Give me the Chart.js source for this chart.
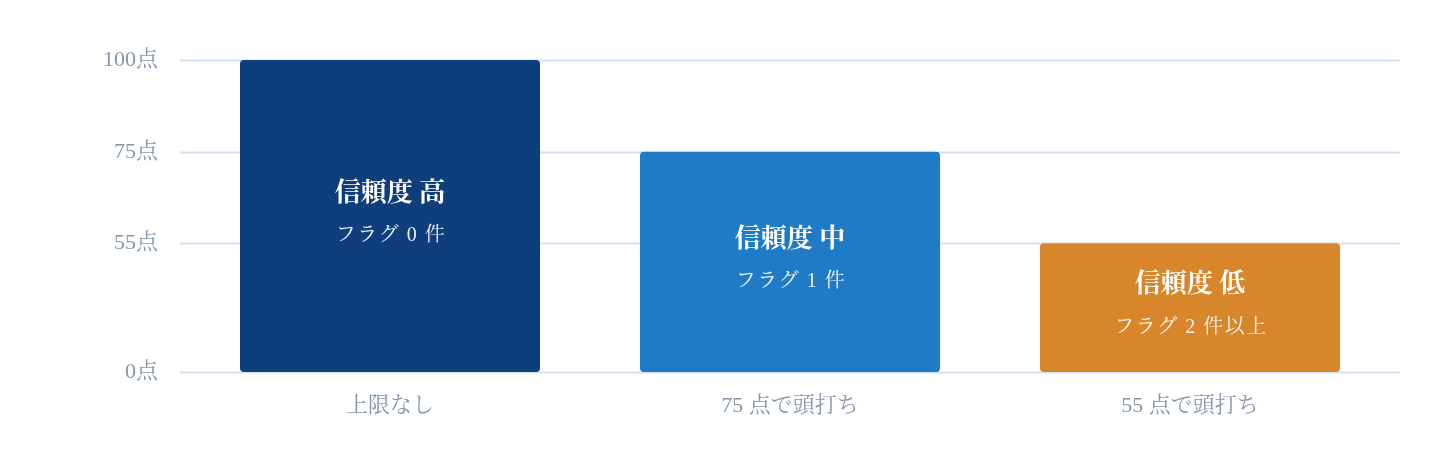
<!DOCTYPE html>
<html lang="ja">
<head>
<meta charset="utf-8">
<script src="https://cdn.jsdelivr.net/npm/chart.js@4.4.1/dist/chart.umd.min.js"></script>
<style>
  html, body { margin: 0; padding: 0; background: #fff; }
  #wrap { width: 1440px; height: 460px; }
</style>
</head>
<body>
<div id="wrap"><canvas id="c"></canvas></div>
<script>
// data
var categories = ['上限なし', '75 点で頭打ち', '55 点で頭打ち'];
var scores = [100, 75, 55];
var levelNames = ['信頼度 高', '信頼度 中', '信頼度 低'];
var flagNotes = ['フラグ 0 件', 'フラグ 1 件', 'フラグ 2 件以上'];
var barColors = ['#0e3e7b', '#1f7bc6', '#d8862c'];
var yTicks = [0, 55, 75, 100];
// where each tick sits on the axis (0 = bottom, 1 = top)
var yTickPos = [0, 0.4125, 0.706, 1];

var FONT = '"Liberation Serif", "Noto Serif CJK JP", "Noto Serif JP", "IPAMincho", "IPAexMincho", "DejaVu Serif", serif';
var TICK_COLOR = '#8596aa';
var GRID_COLOR = '#d3e2f1';

// piecewise linear y scale so that the score bands get the spacing of the original
class BandScale extends Chart.LinearScale {
  getPixelForValue(value) {
    var d = 0;
    for (var i = 1; i < yTicks.length; i++) {
      if (value <= yTicks[i] || i === yTicks.length - 1) {
        var t = (value - yTicks[i - 1]) / (yTicks[i] - yTicks[i - 1]);
        d = yTickPos[i - 1] + t * (yTickPos[i] - yTickPos[i - 1]);
        break;
      }
    }
    return this.getPixelForDecimal(d);
  }
  getValueForPixel(pixel) {
    var d = this.getDecimalForPixel(pixel);
    for (var i = 1; i < yTickPos.length; i++) {
      if (d <= yTickPos[i] || i === yTickPos.length - 1) {
        var t = (d - yTickPos[i - 1]) / (yTickPos[i] - yTickPos[i - 1]);
        return yTicks[i - 1] + t * (yTicks[i] - yTicks[i - 1]);
      }
    }
  }
}
BandScale.id = 'band';
BandScale.defaults = Chart.LinearScale.defaults;
Chart.register(BandScale);

// horizontal grid lines, a little wider than the plot area
var gridPlugin = {
  id: 'bandGrid',
  beforeDatasetsDraw: function(chart) {
    var ctx = chart.ctx, area = chart.chartArea, y = chart.scales.y;
    ctx.save();
    ctx.strokeStyle = GRID_COLOR;
    ctx.lineWidth = 2;
    yTicks.forEach(function(v) {
      var py = Math.round(y.getPixelForValue(v)) + 0.5;
      ctx.beginPath();
      ctx.moveTo(area.left - 10, py);
      ctx.lineTo(area.right + 10, py);
      ctx.stroke();
    });
    ctx.restore();
  }
};

// two-line label inside each bar
var barTextPlugin = {
  id: 'barText',
  afterDatasetsDraw: function(chart) {
    var ctx = chart.ctx;
    var meta = chart.getDatasetMeta(0);
    ctx.save();
    ctx.textAlign = 'center';
    ctx.textBaseline = 'middle';
    meta.data.forEach(function(bar, i) {
      var mid = (bar.y + bar.base) / 2;
      ctx.fillStyle = '#ffffff';
      ctx.font = 'bold 26px ' + FONT;
      ctx.letterSpacing = '0px';
      ctx.fillText(levelNames[i], bar.x, mid - 22);
      ctx.fillStyle = 'rgba(255,255,255,0.92)';
      ctx.font = '20px ' + FONT;
      ctx.letterSpacing = '1.5px';
      ctx.fillText(flagNotes[i], bar.x + 1, mid + 20);
    });
    ctx.restore();
  }
};

new Chart(document.getElementById('c'), {
  type: 'bar',
  data: {
    labels: categories,
    datasets: [{
      data: scores,
      backgroundColor: barColors,
      borderWidth: 0,
      borderRadius: 4,
      borderSkipped: false,
      barPercentage: 0.75,
      categoryPercentage: 1
    }]
  },
  options: {
    responsive: true,
    maintainAspectRatio: false,
    animation: false,
    layout: { padding: { top: 60, right: 50, bottom: 0, left: 0 } },
    plugins: {
      legend: { display: false },
      tooltip: { enabled: false }
    },
    scales: {
      x: {
        grid: { display: false },
        border: { display: false },
        ticks: {
          color: TICK_COLOR,
          font: { family: FONT, size: 22 },
          padding: 13
        },
        afterFit: function(s) { s.height = 88; }
      },
      y: {
        type: 'band',
        min: 0,
        max: 100,
        grid: { display: false },
        border: { display: false },
        ticks: {
          color: TICK_COLOR,
          font: { family: FONT, size: 22 },
          padding: 24,
          callback: function(v) { return v + '点'; }
        },
        afterBuildTicks: function(s) {
          s.ticks = yTicks.map(function(v) { return { value: v }; });
        },
        afterFit: function(s) { s.width = 190; }
      }
    }
  },
  plugins: [gridPlugin, barTextPlugin]
});
</script>
</body>
</html>
